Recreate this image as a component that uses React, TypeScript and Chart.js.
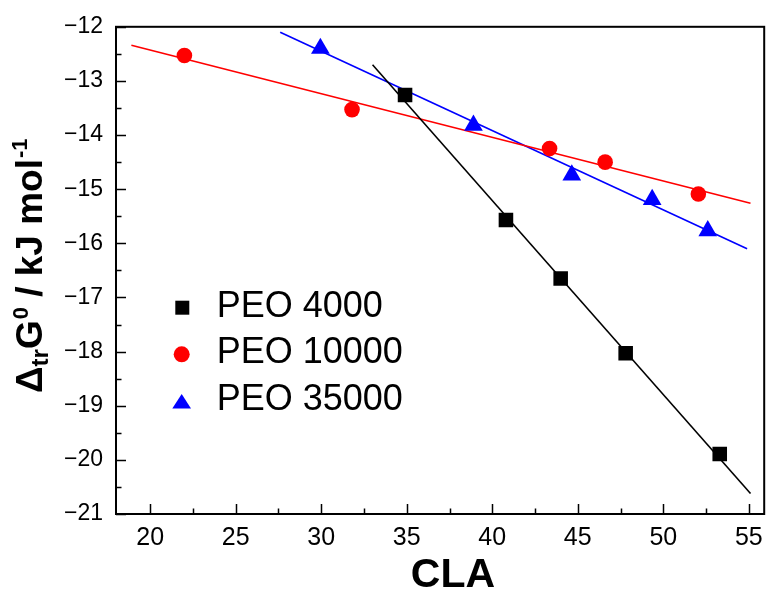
import React, { useEffect, useRef } from 'react';
import { Chart, registerables } from 'chart.js';

Chart.register(...registerables);

// ---- Data ----
const seriesNames = ['PEO 4000', 'PEO 10000', 'PEO 35000'];
const seriesColors = ['#000000', '#ff0000', '#0000ff'];

const peo4000X = [34.9, 40.8, 44.0, 47.8, 53.3];
const peo4000Y = [-13.26, -15.57, -16.65, -18.03, -19.89];
const peo10000X = [22.0, 31.8, 43.35, 46.6, 52.05];
const peo10000Y = [-12.53, -13.53, -14.25, -14.5, -15.09];
const peo35000X = [29.95, 38.9, 44.65, 49.35, 52.6];
const peo35000Y = [-12.4, -13.82, -14.74, -15.19, -15.77];

// linear fit lines (end points)
const fit4000X = [33.0, 55.1];
const fit4000Y = [-12.7, -20.62];
const fit10000X = [18.9, 55.1];
const fit10000Y = [-12.34, -15.26];
const fit35000X = [27.6, 54.9];
const fit35000Y = [-12.1, -16.1];

const xTicks = [20, 25, 30, 35, 40, 45, 50, 55];
const xMinorTicks = [22.5, 27.5, 32.5, 37.5, 42.5, 47.5, 52.5];
const yTicks = [-21, -20, -19, -18, -17, -16, -15, -14, -13, -12];
const yMinorTicks = [-20.5, -19.5, -18.5, -17.5, -16.5, -15.5, -14.5, -13.5, -12.5];

const xMin = 18;
const xMax = 55.9;
const yMin = -21;
const yMax = -12;

const FONT = "'Liberation Sans', Arial, Helvetica, sans-serif";

const zip = (xs: number[], ys: number[]) => xs.map((x, i) => ({ x, y: ys[i] }));

const decorPlugin = {
  id: 'decor',
  afterDraw(chart: any) {
    const ctx = chart.ctx as CanvasRenderingContext2D;
    const { left, right, top, bottom } = chart.chartArea;
    const xs = chart.scales.x;
    const ys = chart.scales.y;
    ctx.save();
    // frame
    ctx.strokeStyle = '#000';
    ctx.lineWidth = 2;
    ctx.strokeRect(left, top, right - left, bottom - top);
    // ticks (inward)
    ctx.lineWidth = 1.5;
    ctx.beginPath();
    xTicks.forEach((v) => {
      const p = Math.round(xs.getPixelForValue(v)) + 0.5;
      ctx.moveTo(p, bottom);
      ctx.lineTo(p, bottom - 10);
    });
    xMinorTicks.forEach((v) => {
      const p = Math.round(xs.getPixelForValue(v)) + 0.5;
      ctx.moveTo(p, bottom);
      ctx.lineTo(p, bottom - 5.5);
    });
    yTicks.forEach((v) => {
      const p = Math.round(ys.getPixelForValue(v)) + 0.5;
      ctx.moveTo(left, p);
      ctx.lineTo(left + 10, p);
    });
    yMinorTicks.forEach((v) => {
      const p = Math.round(ys.getPixelForValue(v)) + 0.5;
      ctx.moveTo(left, p);
      ctx.lineTo(left + 5.5, p);
    });
    ctx.stroke();

    // x title
    ctx.fillStyle = '#000';
    ctx.font = `bold 41px ${FONT}`;
    ctx.textAlign = 'center';
    ctx.textBaseline = 'alphabetic';
    ctx.fillText('CLA', 453, 587);

    // y title (rotated, with sub/superscripts), laid out sequentially
    const segs: { t: string; size: number; base: number; gap: number }[] = [
      { t: 'Δ', size: 37, base: 42, gap: 0 },
      { t: 'tr', size: 24, base: 48, gap: 0 },
      { t: 'G', size: 37, base: 42, gap: 0 },
      { t: '0', size: 22, base: 28, gap: 1 },
      { t: ' / kJ mol', size: 37, base: 42, gap: 0 },
      { t: '-1', size: 22, base: 27, gap: 1 },
    ];
    let pos = 393;
    segs.forEach((s) => {
      ctx.save();
      ctx.font = `bold ${s.size}px ${FONT}`;
      const w = ctx.measureText(s.t).width;
      pos -= s.gap;
      ctx.translate(s.base, pos);
      ctx.rotate(-Math.PI / 2);
      ctx.textAlign = 'left';
      ctx.textBaseline = 'alphabetic';
      ctx.fillText(s.t, 0, 0);
      ctx.restore();
      pos -= w;
    });

    // legend
    const rows = [316.7, 363.3, 410];
    ctx.font = `36px ${FONT}`;
    ctx.textAlign = 'left';
    rows.forEach((base, i) => {
      const cy = base - 11;
      ctx.fillStyle = seriesColors[i];
      ctx.beginPath();
      if (i === 0) {
        ctx.rect(182.3 - 7, cy - 7 + 2, 14, 14);
      } else if (i === 1) {
        ctx.arc(181.7, cy + 2, 8, 0, Math.PI * 2);
      } else {
        ctx.moveTo(181.7, cy - 5);
        ctx.lineTo(191, cy + 9.5);
        ctx.lineTo(172.3, cy + 9.5);
        ctx.closePath();
      }
      ctx.fill();
      ctx.fillStyle = '#000';
      ctx.fillText(seriesNames[i], 216.7, base);
    });
    ctx.restore();
  },
};

export default function App() {
  const ref = useRef<HTMLCanvasElement | null>(null);
  useEffect(() => {
    document.body.style.margin = '0';
    const canvas = ref.current;
    if (!canvas) return;
    Chart.defaults.font.family = FONT;
    Chart.defaults.color = '#000';
    const lineDs = (xs: number[], ys: number[], color: string) => ({
      type: 'line' as const,
      data: zip(xs, ys),
      borderColor: color,
      borderWidth: 1.6,
      pointRadius: 0,
      showLine: true,
      fill: false,
      order: 2,
    });
    const ptDs = (label: string, xs: number[], ys: number[], color: string, style: string, r: number) => ({
      type: 'scatter' as const,
      label,
      data: zip(xs, ys),
      backgroundColor: color,
      borderColor: color,
      pointBorderWidth: 0,
      pointStyle: style,
      pointRadius: r,
      showLine: false,
      order: 1,
    });
    const chart = new Chart(canvas, {
      type: 'scatter',
      data: {
        datasets: [
          lineDs(fit4000X, fit4000Y, seriesColors[0]),
          lineDs(fit10000X, fit10000Y, seriesColors[1]),
          lineDs(fit35000X, fit35000Y, seriesColors[2]),
          ptDs(seriesNames[0], peo4000X, peo4000Y, seriesColors[0], 'rect', 10.3),
          ptDs(seriesNames[1], peo10000X, peo10000Y, seriesColors[1], 'circle', 7.8),
          ptDs(seriesNames[2], peo35000X, peo35000Y, seriesColors[2], 'triangle', 10.8),
        ] as any,
      },
      options: {
        responsive: false,
        animation: false,
        devicePixelRatio: 1,
        layout: { padding: { top: 24, right: 2, left: 0, bottom: 0 } },
        plugins: {
          legend: { display: false },
          tooltip: { enabled: false },
          title: { display: false },
        },
        scales: {
          x: {
            type: 'linear',
            min: xMin,
            max: xMax,
            grid: { display: false, drawTicks: false },
            border: { display: false },
            ticks: {
              font: { size: 25 },
              color: '#000',
              padding: 9,
              maxRotation: 0,
            },
            afterBuildTicks: (s: any) => {
              s.ticks = xTicks.map((v) => ({ value: v }));
            },
            afterFit: (s: any) => {
              s.height = 76;
            },
          },
          y: {
            type: 'linear',
            min: yMin,
            max: yMax,
            grid: { display: false, drawTicks: false },
            border: { display: false },
            ticks: {
              font: { size: 23 },
              color: '#000',
              padding: 13,
              callback: (v: any) => String(v).replace('-', '\u2212'),
            },
            afterBuildTicks: (s: any) => {
              s.ticks = yTicks.map((v) => ({ value: v }));
            },
            afterFit: (s: any) => {
              s.width = 116;
            },
          },
        },
      } as any,
      plugins: [decorPlugin],
    });
    return () => chart.destroy();
  }, []);
  return (
    <div style={{ width: 775, height: 590 }}>
      <canvas ref={ref} width={775} height={590} style={{ display: 'block' }} />
    </div>
  );
}
